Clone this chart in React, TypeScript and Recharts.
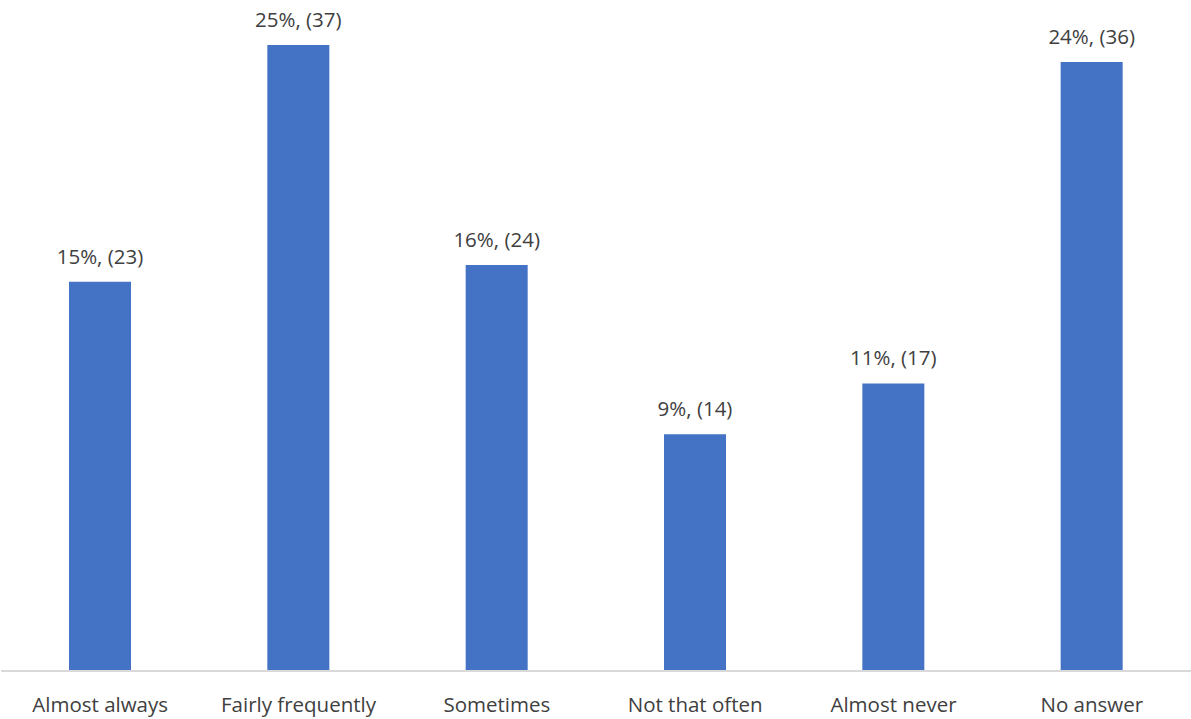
import { BarChart, Bar, XAxis, YAxis, LabelList } from "recharts";

const categories = [
  "Almost always",
  "Fairly frequently",
  "Sometimes",
  "Not that often",
  "Almost never",
  "No answer",
];
const counts = [23, 37, 24, 14, 17, 36];
const percents = [15, 25, 16, 9, 11, 24];

const data = categories.map((name, i) => ({
  name,
  count: counts[i],
  label: `${percents[i]}%, (${counts[i]})`,
}));

const FONT = "'Open Sans', 'Liberation Sans', sans-serif";
const TEXT = "#404040";

// eslint-disable-next-line @typescript-eslint/no-explicit-any
function CategoryTick({ x, y, payload }: any) {
  return (
    <text x={x} y={y + 33} textAnchor="middle" fontSize={20.5} fill={TEXT} fontFamily={FONT}>
      {payload.value}
    </text>
  );
}

// single-line value label above each bar (no wrapping)
// eslint-disable-next-line @typescript-eslint/no-explicit-any
function ValueLabel({ x, y, width, value }: any) {
  return (
    <text x={x + width / 2} y={y - 18} textAnchor="middle" fontSize={20.5} fill={TEXT} fontFamily={FONT}>
      {value}
    </text>
  );
}

export default function App() {
  return (
    <div style={{ position: "absolute", left: 0, top: 0, width: 1191, height: 719, background: "#fff" }}>
      <BarChart
        width={1191}
        height={719}
        data={data}
        margin={{ top: 45, right: 0, left: 1, bottom: 0 }}
      >
        <XAxis
          dataKey="name"
          height={48}
          interval={0}
          tickLine={false}
          axisLine={{ stroke: "#D9D9D9", strokeWidth: 2 }}
          tick={<CategoryTick />}
        />
        <YAxis hide domain={[0, 37]} />
        <Bar dataKey="count" fill="#4472C4" barSize={62} isAnimationActive={false}>
          <LabelList dataKey="label" content={<ValueLabel />} />
        </Bar>
      </BarChart>
    </div>
  );
}
